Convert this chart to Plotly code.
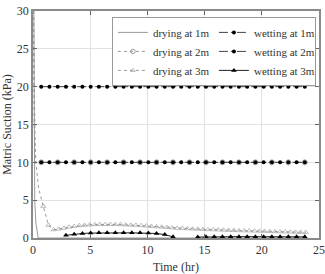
import plotly.graph_objects as go

# ---------------- data ----------------
# common time grid of the constant / wetting series (hr)
t_grid = [0.72, 1.44, 2.16, 2.88, 3.6, 4.32, 5.04, 5.76, 6.48, 7.2, 7.92, 8.64,
          9.36, 10.08, 10.8, 11.52, 12.24, 12.96, 13.68, 14.4, 15.12, 15.84,
          16.56, 17.28, 18.0, 18.72, 19.44, 20.16, 20.88, 21.6, 22.32, 23.04, 23.76]

# drying at 1m (fast drop to zero)
d1_t = [0.08, 0.1, 0.15, 0.25, 0.45, 24.0]
d1_y = [30, 10, 5, 2, 0, 0]

# drying at 2m
d2_t = [0.05, 0.2, 0.72, 2.16, 3.6, 5.04, 6.48, 7.92, 9.36, 10.8, 12.24, 13.68,
        15.12, 16.56, 18.0, 19.44, 20.88, 22.32, 23.76]
d2_y = [30, 10, 10, 10, 10, 10, 10, 10, 10, 10, 10, 10, 10, 10, 10, 10, 10, 10, 10]

# drying at 3m
d3_t = [0.02, 0.1, 0.25, 0.5,
        0.9, 1.35, 1.8, 2.25, 2.7, 3.15, 3.6, 4.05, 4.5, 4.95, 5.4, 5.85, 6.3,
        6.75, 7.2, 7.65, 8.1, 8.55, 9.0, 9.45, 9.9, 10.35, 10.8, 11.25, 11.7,
        12.15, 12.6, 13.05, 13.5, 13.95, 14.4, 14.85, 15.3, 15.75, 16.2, 16.65,
        17.1, 17.55, 18.0, 18.45, 18.9, 19.35, 19.8, 20.25, 20.7, 21.15, 21.6,
        22.05, 22.5, 22.95, 23.4, 23.85]
d3_y = [30, 15, 10, 6.5,
        4.2, 1.7, 1.1, 1.2, 1.3, 1.45, 1.55, 1.65, 1.7, 1.75, 1.78, 1.8, 1.8,
        1.8, 1.8, 1.78, 1.75, 1.72, 1.7, 1.65, 1.6, 1.55, 1.5, 1.45, 1.4,
        1.35, 1.3, 1.27, 1.24, 1.2, 1.18, 1.15, 1.12, 1.1, 1.08, 1.05,
        1.03, 1.0, 0.98, 0.96, 0.95, 0.93, 0.92, 0.9, 0.88, 0.86, 0.84,
        0.82, 0.8, 0.78, 0.76, 0.75]

# wetting at 1m / 2m (constant suction)
w1_y = [20] * 33
w2_y = [10] * 33

# wetting at 3m
w3_t = [2.88, 3.6, 4.32, 5.04, 5.76, 6.48, 7.2, 7.92, 8.64, 9.36, 10.08, 10.8,
        11.52, 12.24, 13.3, 14.4, 15.12, 15.84, 16.56, 17.28, 18.0, 18.72,
        19.44, 20.16, 20.88, 21.6, 22.32, 23.04, 23.76]
w3_y = [0.35, 0.5, 0.6, 0.65, 0.68, 0.68, 0.68, 0.68, 0.68, 0.68, 0.65, 0.6,
        0.45, 0.15, None, 0.12, 0.15, 0.17, 0.18, 0.18, 0.18, 0.18,
        0.18, 0.18, 0.18, 0.17, 0.17, 0.16, 0.15]

x_ticks = [0, 5, 10, 15, 20, 25]
y_ticks = [0, 5, 10, 15, 20, 25, 30]

# ---------------- figure ----------------
GRAY = "#9a9a9a"
FONT = "Liberation Serif, Times New Roman, serif"

fig = go.Figure()

d2_sizes = [0, 0] + [5] * (len(d2_t) - 2)
d3_sizes = [0, 0, 0, 0] + [4.5] * (len(d3_t) - 4)

fig.add_trace(go.Scatter(x=d1_t, y=d1_y, name="drying at 1m", mode="lines",
                         line=dict(color=GRAY, width=1)))
fig.add_trace(go.Scatter(x=t_grid, y=w1_y, name="wetting at 1m", mode="lines+markers",
                         line=dict(color="#444", width=1, dash="dashdot"),
                         marker=dict(symbol="circle", size=4, color="black")))
fig.add_trace(go.Scatter(x=d2_t, y=d2_y, name="drying at 2m", mode="lines+markers",
                         line=dict(color=GRAY, width=1, dash="dot"),
                         marker=dict(symbol="circle-open", size=d2_sizes, color="#777",
                                     line=dict(width=1))))
fig.add_trace(go.Scatter(x=t_grid, y=w2_y, name="wetting at 2m", mode="lines+markers",
                         line=dict(color="#444", width=1, dash="dashdot"),
                         marker=dict(symbol="circle", size=4, color="black")))
fig.add_trace(go.Scatter(x=d3_t, y=d3_y, name="drying at 3m", mode="lines+markers",
                         line=dict(color=GRAY, width=1, dash="dot"),
                         marker=dict(symbol="triangle-up-open", size=d3_sizes, color="#888",
                                     line=dict(width=0.8))))
fig.add_trace(go.Scatter(x=w3_t, y=w3_y, name="wetting at 3m", mode="lines+markers",
                         connectgaps=False,
                         line=dict(color="#222", width=1),
                         marker=dict(symbol="triangle-up", size=5, color="black")))

axis_common = dict(showgrid=True, gridcolor="#e2e2e2", gridwidth=1,
                   showline=True, linecolor="#8a8a8a", linewidth=1.5, mirror="ticks",
                   ticks="inside", ticklen=4, tickcolor="#666", zeroline=False,
                   tickfont=dict(family=FONT, size=12, color="#333"))

fig.update_layout(
    width=325, height=274,
    margin=dict(l=33, r=6, t=11, b=36, autoexpand=False),
    paper_bgcolor="white", plot_bgcolor="white",
    font=dict(family=FONT, size=12, color="#333"),
    showlegend=True,
    legend=dict(orientation="h", x=0.276, y=0.974, xanchor="left", yanchor="top",
                entrywidth=56, entrywidthmode="pixels",
                bgcolor="white", bordercolor="#999", borderwidth=1,
                font=dict(family=FONT, size=11, color="#333"),
                itemwidth=30, tracegroupgap=0),
    xaxis=dict(range=[0, 25], tickvals=x_ticks,
               title=dict(text="Time (hr)", font=dict(family=FONT, size=12), standoff=7),
               **axis_common),
    yaxis=dict(range=[0, 30], tickvals=y_ticks,
               title=dict(text="Matric Suction (kPa)", font=dict(family=FONT, size=12), standoff=5),
               **axis_common),
)

fig.write_html("out.html")
